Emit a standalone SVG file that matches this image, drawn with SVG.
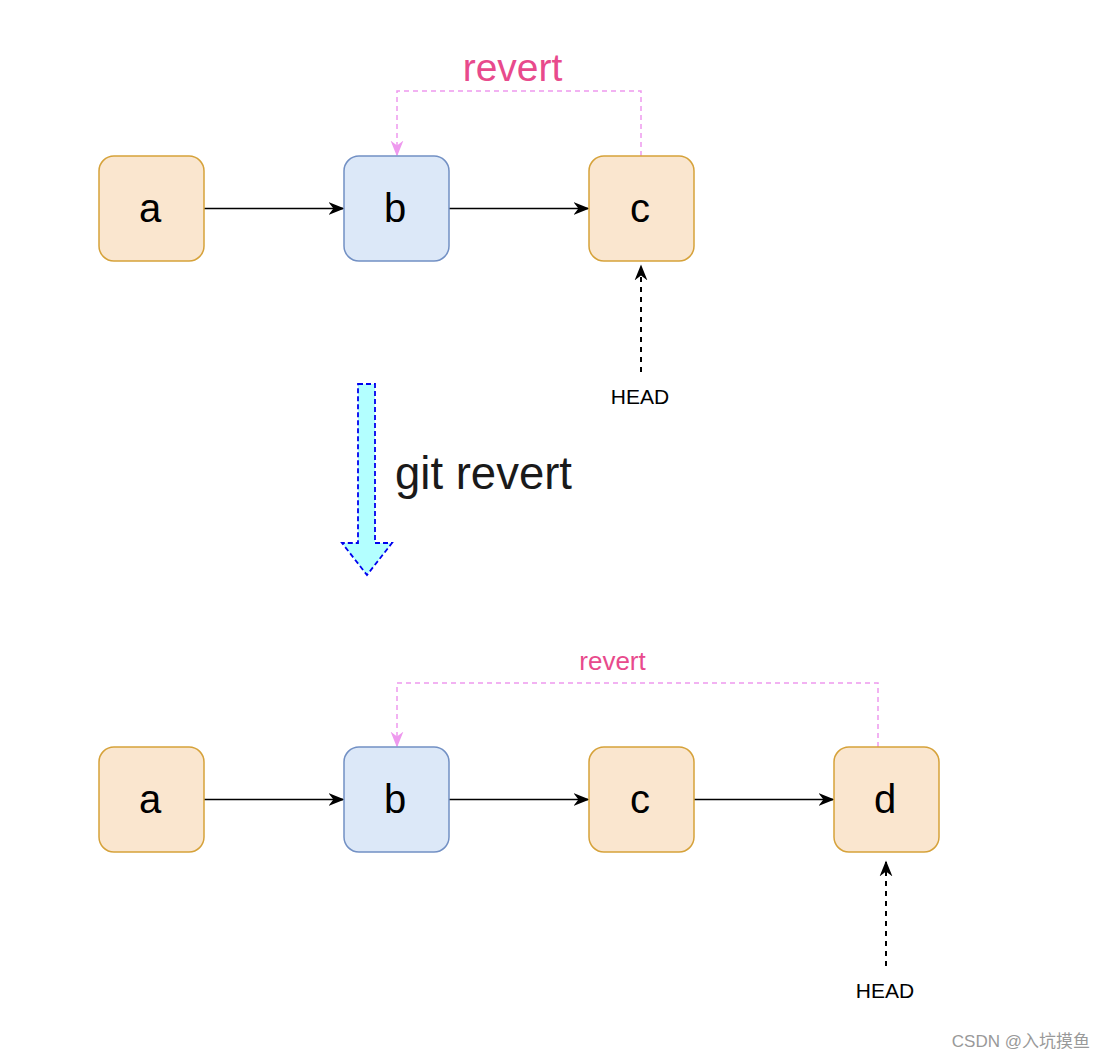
<svg xmlns="http://www.w3.org/2000/svg" width="1106" height="1059" viewBox="0 0 1106 1059">
<style>
.box{stroke-width:1.5}
.o{fill:#fae6cf;stroke:#d6a23a}
.bl{fill:#dce8f8;stroke:#7290c4}
.lbl{font-family:"Liberation Sans",Arial,sans-serif;font-size:40px;text-anchor:middle;fill:#000}
.edge{stroke:#000;stroke-width:1.5;fill:none}
.rev{stroke:#ee99ee;stroke-width:1.5;fill:none;stroke-dasharray:5 4}
.head{stroke:#000;stroke-width:2;fill:none;stroke-dasharray:5 5}
.ht{font-family:"Liberation Sans",Arial,sans-serif;font-size:21px;text-anchor:middle;fill:#000}
.pink{font-family:"Liberation Sans",Arial,sans-serif;fill:#e84a8c;text-anchor:middle}
</style>
<defs>
<marker id="ab" viewBox="0 0 10 10" refX="9" refY="5" markerWidth="16" markerHeight="16" markerUnits="userSpaceOnUse" orient="auto"><path d="M0,1 L10,5 L0,9 L3,5 Z" fill="#000"/></marker>
<marker id="ap" viewBox="0 0 10 10" refX="9" refY="5" markerWidth="16" markerHeight="16" markerUnits="userSpaceOnUse" orient="auto"><path d="M0,1 L10,5 L0,9 L3,5 Z" fill="#ee99ee"/></marker>
</defs>
<rect width="1106" height="1059" fill="#fff"/>
<g id="connectors">
<path class="edge" d="M204,208.5 L343,208.5" marker-end="url(#ab)"/>
<path class="edge" d="M449,208.5 L588,208.5" marker-end="url(#ab)"/>
<path class="rev" d="M641,156 L641,91 L397,91 L397,155" marker-end="url(#ap)"/>
<path class="head" d="M641,372 L641,266" marker-end="url(#ab)"/>
<path class="edge" d="M204,799.5 L343,799.5" marker-end="url(#ab)"/>
<path class="edge" d="M449,799.5 L588,799.5" marker-end="url(#ab)"/>
<path class="edge" d="M694,799.5 L833,799.5" marker-end="url(#ab)"/>
<path class="rev" d="M878,747 L878,683 L397,683 L397,746" marker-end="url(#ap)"/>
<path class="head" d="M886,966 L886,862" marker-end="url(#ab)"/>
</g>
<g id="n-a1"><rect class="box o" x="99" y="156" width="105" height="105" rx="15"/><text class="lbl" x="150" y="222">a</text></g>
<g id="n-b1"><rect class="box bl" x="344" y="156" width="105" height="105" rx="15"/><text class="lbl" x="395" y="222">b</text></g>
<g id="n-c1"><rect class="box o" x="589" y="156" width="105" height="105" rx="15"/><text class="lbl" x="640" y="222">c</text></g>
<g id="revert1"><text class="pink" x="512.5" y="81" font-size="39">revert</text></g>
<g id="head1"><text class="ht" x="640" y="404">HEAD</text></g>
<g id="bigarrow"><path d="M358,384 L375,384 L375,543 L392,543 L367,575 L342,543 L358,543 Z" fill="#b3ffff" stroke="#0000ee" stroke-width="1.8" stroke-dasharray="5 3"/></g>
<g id="gitrevert"><text x="395" y="489" font-family="Liberation Sans,Arial,sans-serif" font-size="45.5" fill="#1a1a1a">git revert</text></g>
<g id="n-a2"><rect class="box o" x="99" y="747" width="105" height="105" rx="15"/><text class="lbl" x="150" y="813">a</text></g>
<g id="n-b2"><rect class="box bl" x="344" y="747" width="105" height="105" rx="15"/><text class="lbl" x="395" y="813">b</text></g>
<g id="n-c2"><rect class="box o" x="589" y="747" width="105" height="105" rx="15"/><text class="lbl" x="640" y="813">c</text></g>
<g id="n-d2"><rect class="box o" x="834" y="747" width="105" height="105" rx="15"/><text class="lbl" x="885" y="813">d</text></g>
<g id="revert2"><text class="pink" x="612.5" y="670" font-size="26">revert</text></g>
<g id="head2"><text class="ht" x="885" y="998">HEAD</text></g>
<g id="watermark"><text x="1090" y="1047" text-anchor="end" font-family="Liberation Sans,'Noto Sans CJK SC',sans-serif" font-size="17" fill="#999">CSDN @入坑摸鱼</text></g>
</svg>
